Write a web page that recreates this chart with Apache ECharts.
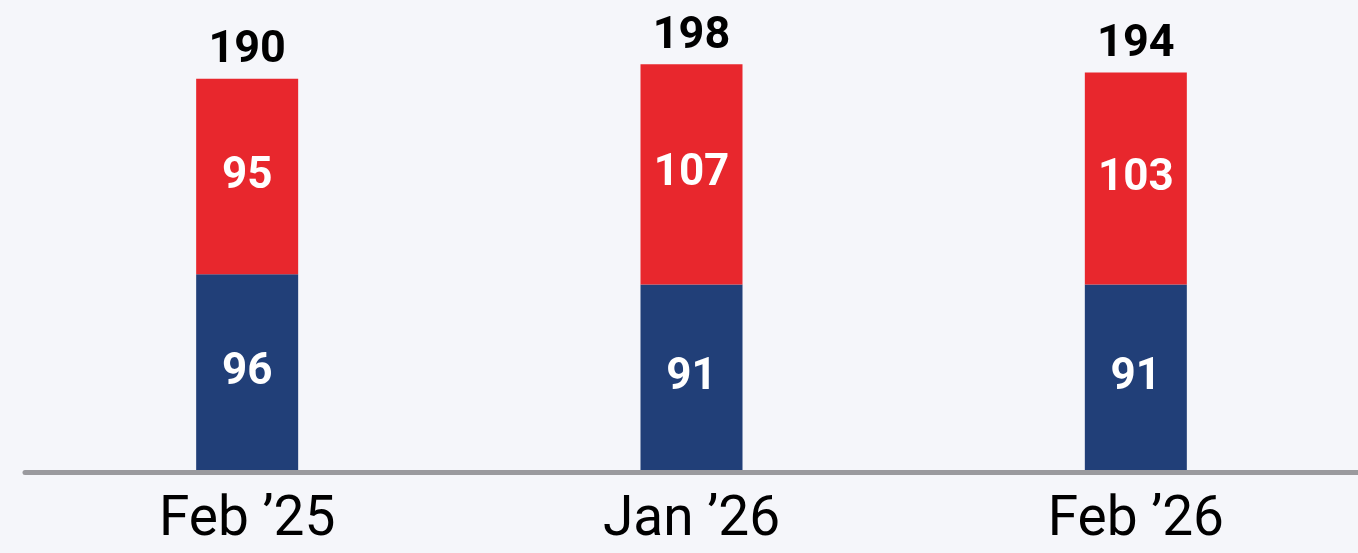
<!DOCTYPE html>
<html>
<head>
<meta charset="utf-8">
<script src="https://cdn.jsdelivr.net/npm/echarts@6/dist/echarts.min.js"></script>
<style>
  html, body { margin: 0; padding: 0; background: #f5f6fa; }
  #chart { width: 1358px; height: 553px; }
</style>
</head>
<body>
<div id="chart"></div>
<script>
  const categories = ['Feb \u201925', 'Jan \u201926', 'Feb \u201926']
  const lowerValues = [96, 91, 91]
  const upperValues = [95, 107, 103]
  const totals = [190, 198, 194]

  const chart = echarts.init(document.getElementById('chart'))

  const insideLabel = {
    show: true,
    position: 'inside',
    color: '#fff',
    fontFamily: 'Roboto',
    fontWeight: 'bold',
    fontSize: 44,
  }

  const option = {
    backgroundColor: '#f5f6fa',
    animation: false,
    grid: {
      left: 25,
      right: 0,
      top: 19,
      bottom: 81,
    },
    xAxis: {
      type: 'category',
      data: categories,
      z: 5,
      axisLine: {
        show: true,
        lineStyle: { color: '#9a9a9e', width: 5 },
      },
      axisTick: { show: false },
      axisLabel: {
        color: '#000',
        fontFamily: 'Roboto',
        fontSize: 55,
        margin: 22,
      },
    },
    yAxis: {
      type: 'value',
      min: 0,
      max: 220,
      show: false,
      splitLine: { show: false },
    },
    series: [
      {
        name: 'Lower',
        type: 'bar',
        stack: 'total',
        barWidth: 102,
        data: lowerValues,
        itemStyle: { color: '#213f78' },
        label: insideLabel,
      },
      {
        name: 'Upper',
        type: 'bar',
        stack: 'total',
        barWidth: 102,
        data: upperValues,
        itemStyle: { color: '#e8272d' },
        label: insideLabel,
      },
      {
        name: 'Total',
        type: 'bar',
        stack: 'total',
        barWidth: 102,
        data: totals.map(() => 0),
        itemStyle: { color: 'transparent' },
        label: {
          show: true,
          position: 'top',
          distance: 5,
          color: '#000',
          fontFamily: 'Roboto',
          fontWeight: 'bold',
          fontSize: 45,
          formatter: (p) => totals[p.dataIndex],
        },
      },
    ],
  }

  chart.setOption(option)
</script>
</body>
</html>
